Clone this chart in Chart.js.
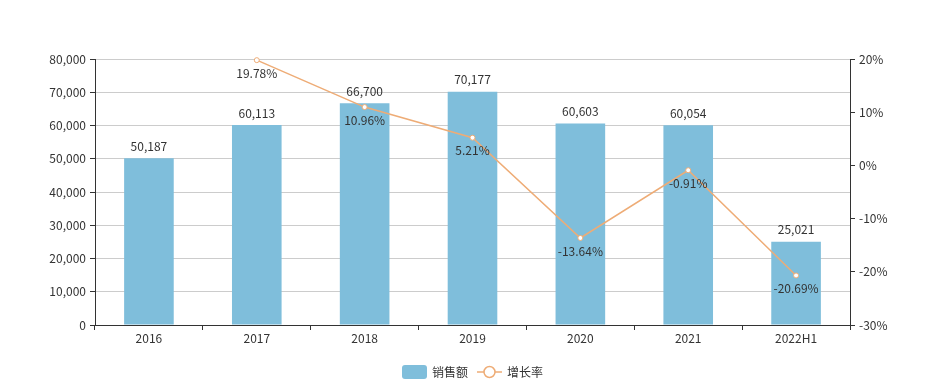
<!DOCTYPE html>
<html>
<head>
<meta charset="utf-8">
<script src="https://cdn.jsdelivr.net/npm/chart.js@4"></script>
<style>
  html, body { margin: 0; padding: 0; background: #fff; }
  #wrap { width: 945px; height: 385px; }
</style>
</head>
<body>
<div id="wrap"><canvas id="salesChart" width="945" height="385"></canvas></div>
<script>
const categories = ['2016', '2017', '2018', '2019', '2020', '2021', '2022H1'];
const sales = [50187, 60113, 66700, 70177, 60603, 60054, 25021];
const growth = [null, 19.78, 10.96, 5.21, -13.64, -0.91, -20.69];
const leftTicks = [0, 10000, 20000, 30000, 40000, 50000, 60000, 70000, 80000];
const rightTicks = [-30, -20, -10, 0, 10, 20];

const barColor = '#7fbedb';
const lineColor = '#eeac76';
const textColor = '#333';
const fontFamily = '"Microsoft YaHei", "Noto Sans CJK SC", sans-serif';

const fmt = (n) => n.toLocaleString('en-US');

// value labels + bottom legend, drawn by hand
const labelsPlugin = {
  id: 'labelsPlugin',
  afterDatasetsDraw(chart) {
    const ctx = chart.ctx;
    ctx.save();
    ctx.font = '12px ' + fontFamily;
    ctx.fillStyle = textColor;
    ctx.textAlign = 'center';
    ctx.textBaseline = 'middle';
    // dataset 1 = bars, dataset 0 = line
    chart.getDatasetMeta(1).data.forEach((bar, i) => {
      ctx.fillText(fmt(sales[i]), bar.x, bar.y - 12);
    });
    chart.getDatasetMeta(0).data.forEach((pt, i) => {
      if (growth[i] === null) return;
      ctx.fillText(growth[i].toFixed(2) + '%', pt.x, pt.y + 13);
    });

    // legend
    const ly = 372;
    ctx.fillStyle = barColor;
    ctx.beginPath();
    ctx.roundRect(402, ly - 7, 25, 14, 3);
    ctx.fill();
    ctx.fillStyle = textColor;
    ctx.textAlign = 'left';
    ctx.fillText('销售额', 432, ly);
    ctx.strokeStyle = lineColor;
    ctx.lineWidth = 1.5;
    ctx.beginPath();
    ctx.moveTo(477, ly);
    ctx.lineTo(502, ly);
    ctx.stroke();
    ctx.fillStyle = '#fff';
    ctx.beginPath();
    ctx.arc(489.5, ly, 5.5, 0, Math.PI * 2);
    ctx.fill();
    ctx.stroke();
    ctx.fillStyle = textColor;
    ctx.fillText('增长率', 507, ly);
    ctx.restore();
  }
};

new Chart(document.getElementById('salesChart'), {
  data: {
    labels: categories,
    datasets: [
      {
        type: 'line',
        label: '增长率',
        data: growth,
        yAxisID: 'y1',
        borderColor: lineColor,
        borderWidth: 1.5,
        backgroundColor: '#fff',
        pointBackgroundColor: '#fff',
        pointBorderColor: lineColor,
        pointBorderWidth: 1,
        pointRadius: 2.5,
        spanGaps: false,
        clip: false,
        order: 0
      },
      {
        type: 'bar',
        label: '销售额',
        data: sales,
        yAxisID: 'y',
        backgroundColor: barColor,
        barPercentage: 0.46,
        categoryPercentage: 1,
        order: 1
      }
    ]
  },
  options: {
    responsive: false,
    animation: false,
    layout: { padding: { top: 59, bottom: 35, left: 0, right: 0 } },
    plugins: {
      legend: { display: false },
      tooltip: { enabled: false }
    },
    scales: {
      x: {
        offset: true,
        grid: { display: true, offset: true, drawOnChartArea: false, tickColor: textColor, tickLength: 5 },
        border: { color: textColor },
        ticks: { color: textColor, font: { size: 12, family: fontFamily }, padding: 1 },
        afterFit: (s) => { s.height = 25; }
      },
      y: {
        position: 'left',
        min: leftTicks[0],
        max: leftTicks[leftTicks.length - 1],
        afterBuildTicks: (s) => { s.ticks = leftTicks.map(v => ({ value: v })); },
        grid: { color: '#ccc', tickColor: textColor, tickLength: 5 },
        border: { color: textColor },
        ticks: { color: textColor, font: { size: 12, family: fontFamily }, padding: 4, callback: (v) => fmt(v) },
        afterFit: (s) => { s.width = 95; }
      },
      y1: {
        position: 'right',
        min: rightTicks[0],
        max: rightTicks[rightTicks.length - 1],
        afterBuildTicks: (s) => { s.ticks = rightTicks.map(v => ({ value: v })); },
        grid: { drawOnChartArea: false, tickColor: textColor, tickLength: 5 },
        border: { color: textColor },
        ticks: { color: textColor, font: { size: 12, family: fontFamily }, padding: 4, callback: (v) => v + '%' },
        afterFit: (s) => { s.width = 95; }
      }
    }
  },
  plugins: [labelsPlugin]
});
</script>
</body>
</html>
